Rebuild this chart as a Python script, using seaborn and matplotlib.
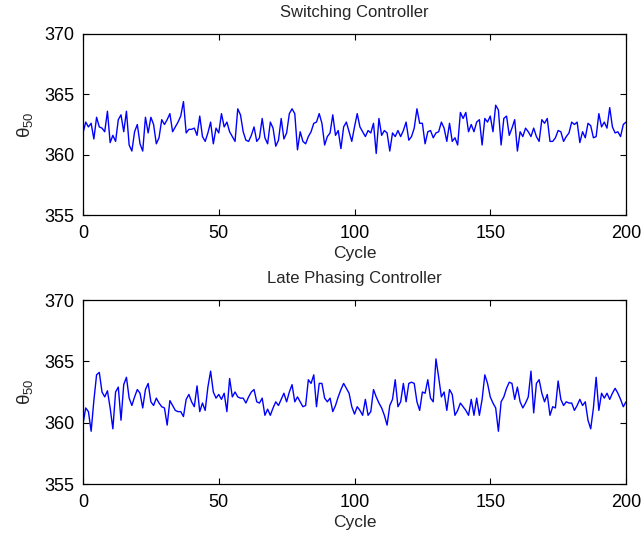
import numpy as np
import pandas as pd
import matplotlib
matplotlib.use("Agg")
import matplotlib.pyplot as plt
import seaborn as sns

cycles = list(range(201))

switching = [
    361.8, 362.7, 362.3, 362.6, 361.3, 363.1, 362.3, 362.2, 361.9, 363.6,
    361.0, 361.6, 361.1, 362.9, 363.3, 361.9, 363.6, 360.8, 360.3, 361.9,
    362.5, 360.9, 360.3, 363.1, 361.8, 363.1, 362.5, 360.9, 361.4, 362.9,
    362.5, 362.9,
    363.4, 361.9, 362.3, 362.7, 363.2, 364.4, 361.8, 362.1, 362.1, 362.2,
    361.6, 363.2, 361.5, 361.1, 361.8, 362.7, 360.9, 362.2, 361.8, 363.4,
    362.3, 362.7, 361.9, 361.5, 361.1, 363.8, 363.3, 361.9, 361.2, 361.1,
    361.6, 362.3, 361.1,
    361.4, 363.0, 361.4, 360.9, 362.7, 362.2, 360.7, 361.2, 363.0, 361.3,
    361.8, 363.4, 363.8, 363.4, 360.4, 361.9, 361.1, 360.9, 361.5, 361.9,
    362.6, 362.7, 363.4, 362.6, 360.8, 361.5, 361.8, 363.3, 361.6, 362.0,
    360.5, 362.3, 362.7,
    361.9, 361.1, 362.3, 363.4, 362.3, 361.9, 361.5, 362.0, 361.8, 362.6,
    360.1, 363.0, 361.6, 362.0, 361.8, 360.3, 361.8, 361.5, 362.0, 361.5,
    362.0, 362.7, 361.2, 361.5, 362.2, 363.8, 362.6, 362.6, 360.9, 361.9,
    362.0, 361.4, 361.8,
    361.9, 362.7, 362.2, 361.1, 362.6, 361.1, 361.4, 360.8, 363.5, 363.0,
    363.5, 361.9, 362.5, 361.9, 362.7, 362.9, 360.8, 363.0, 362.7, 363.2,
    361.9, 364.1, 363.7, 360.8, 363.0, 363.2, 361.6, 362.2, 362.9, 360.3,
    361.9, 361.5, 362.2,
    361.9, 361.5, 362.2, 361.5, 361.1, 362.9, 362.6, 363.0, 361.1, 361.1,
    361.4, 362.0, 361.9, 361.1, 361.5, 361.8, 362.7, 362.5, 362.7, 361.0,
    361.9, 361.4, 362.6, 362.4, 361.4, 361.5, 363.4, 362.3, 362.7, 362.2,
    363.9, 362.3, 361.8, 361.9, 361.5, 362.5, 362.7,
]

late_phasing = [
    359.9, 361.2, 360.9, 359.3, 361.8, 363.9, 364.1, 362.5, 362.1, 362.6,
    361.2, 359.5, 362.5, 362.9, 360.2, 363.1, 363.7, 362.0, 361.4, 362.1,
    362.7, 362.4, 361.2, 362.7, 363.2, 361.7, 361.4, 362.0, 361.6, 361.3,
    361.2, 359.8,
    361.8, 361.4, 361.0, 360.9, 360.9, 360.5, 361.9, 362.3, 361.7, 361.3,
    363.0, 360.9, 361.6, 361.0, 362.9, 364.2, 362.5, 362.0, 362.3, 361.9,
    362.4, 360.9, 363.6, 362.1, 362.5, 362.1, 362.0, 362.0, 361.6, 362.1,
    362.5, 362.7, 361.7,
    361.6, 362.0, 360.6, 361.1, 360.6, 361.2, 361.7, 361.4, 361.9, 362.4,
    361.7, 362.5, 363.1, 361.7, 362.1, 361.7, 361.3, 361.4, 363.5, 363.2,
    363.9, 361.3, 363.2, 363.2, 362.0, 361.7, 362.0, 360.9, 361.4, 362.1,
    362.7, 363.2, 362.8,
    362.4, 361.3, 360.7, 361.3, 361.0, 360.6, 361.9, 360.6, 360.9, 362.7,
    362.1, 361.6, 361.2, 360.6, 359.8, 361.4, 361.9, 363.5, 361.3, 361.7,
    363.2, 361.7, 363.2, 363.3, 363.2, 361.7, 361.0, 362.5, 362.4, 363.5,
    362.0, 361.7, 365.2,
    363.7, 362.1, 362.5, 361.0, 362.7, 362.3, 360.6, 361.0, 361.6, 361.3,
    361.0, 360.6, 361.9, 360.6, 362.0, 360.6, 361.9, 363.9, 363.2, 362.1,
    361.6, 361.2, 359.3, 361.7, 362.1, 362.8, 363.3, 363.2, 361.9, 362.9,
    361.7, 361.2, 361.6,
    362.1, 364.2, 360.8, 363.2, 363.5, 362.4, 361.7, 362.3, 360.6, 361.3,
    361.2, 363.4, 361.9, 361.4, 361.7, 361.6, 361.6, 361.0, 361.4, 361.9,
    361.4, 361.7, 360.2, 359.5, 361.2, 363.7, 361.0, 362.4, 362.0, 362.4,
    361.9, 362.4, 362.8, 362.4, 361.9, 361.3, 361.7,
]

titles = ["Switching Controller", "Late Phasing Controller"]
x_ticks = [0, 50, 100, 150, 200]
y_ticks = [355, 360, 365, 370]

sns.set_theme(style="white")
plt.rcParams["font.family"] = ["Liberation Sans", "DejaVu Sans"]
plt.rcParams["mathtext.default"] = "regular"
plt.rcParams["xtick.direction"] = "in"
plt.rcParams["ytick.direction"] = "in"

fig = plt.figure(figsize=(6.41, 5.35), dpi=100)
ax_top = fig.add_axes([83 / 641, 1 - 215 / 535, 543 / 641, 181 / 535])
ax_bot = fig.add_axes([83 / 641, 1 - 484 / 535, 543 / 641, 184 / 535])

for ax, series, title in zip([ax_top, ax_bot], [switching, late_phasing], titles):
    df = pd.DataFrame({"Cycle": cycles, "theta": series})
    sns.lineplot(data=df, x="Cycle", y="theta", ax=ax, color="#0000ff",
                 linewidth=1.0)
    ax.set_xlim(0, 200)
    ax.set_ylim(355, 370)
    ax.set_xticks(x_ticks)
    ax.set_yticks(y_ticks)
    ax.tick_params(axis="both", which="both", direction="in", length=4,
                   width=0.8, labelsize=13, top=True, right=True,
                   bottom=True, left=True, colors="black")
    ax.tick_params(axis="x", pad=7)
    ax.tick_params(axis="y", pad=6)
    for s in ax.spines.values():
        s.set_visible(True)
        s.set_color("black")
        s.set_linewidth(0.9)
    ax.set_xlabel("Cycle", fontsize=12.5, labelpad=3)
    ax.set_ylabel(r"$\theta_{50}$", fontsize=13.5, labelpad=7)
    ax.set_title(title, fontsize=12, pad=12)
    ax.grid(False)
    ax.set_facecolor("white")

fig.patch.set_facecolor("white")
fig.savefig("out.png", dpi=100, facecolor="white")
